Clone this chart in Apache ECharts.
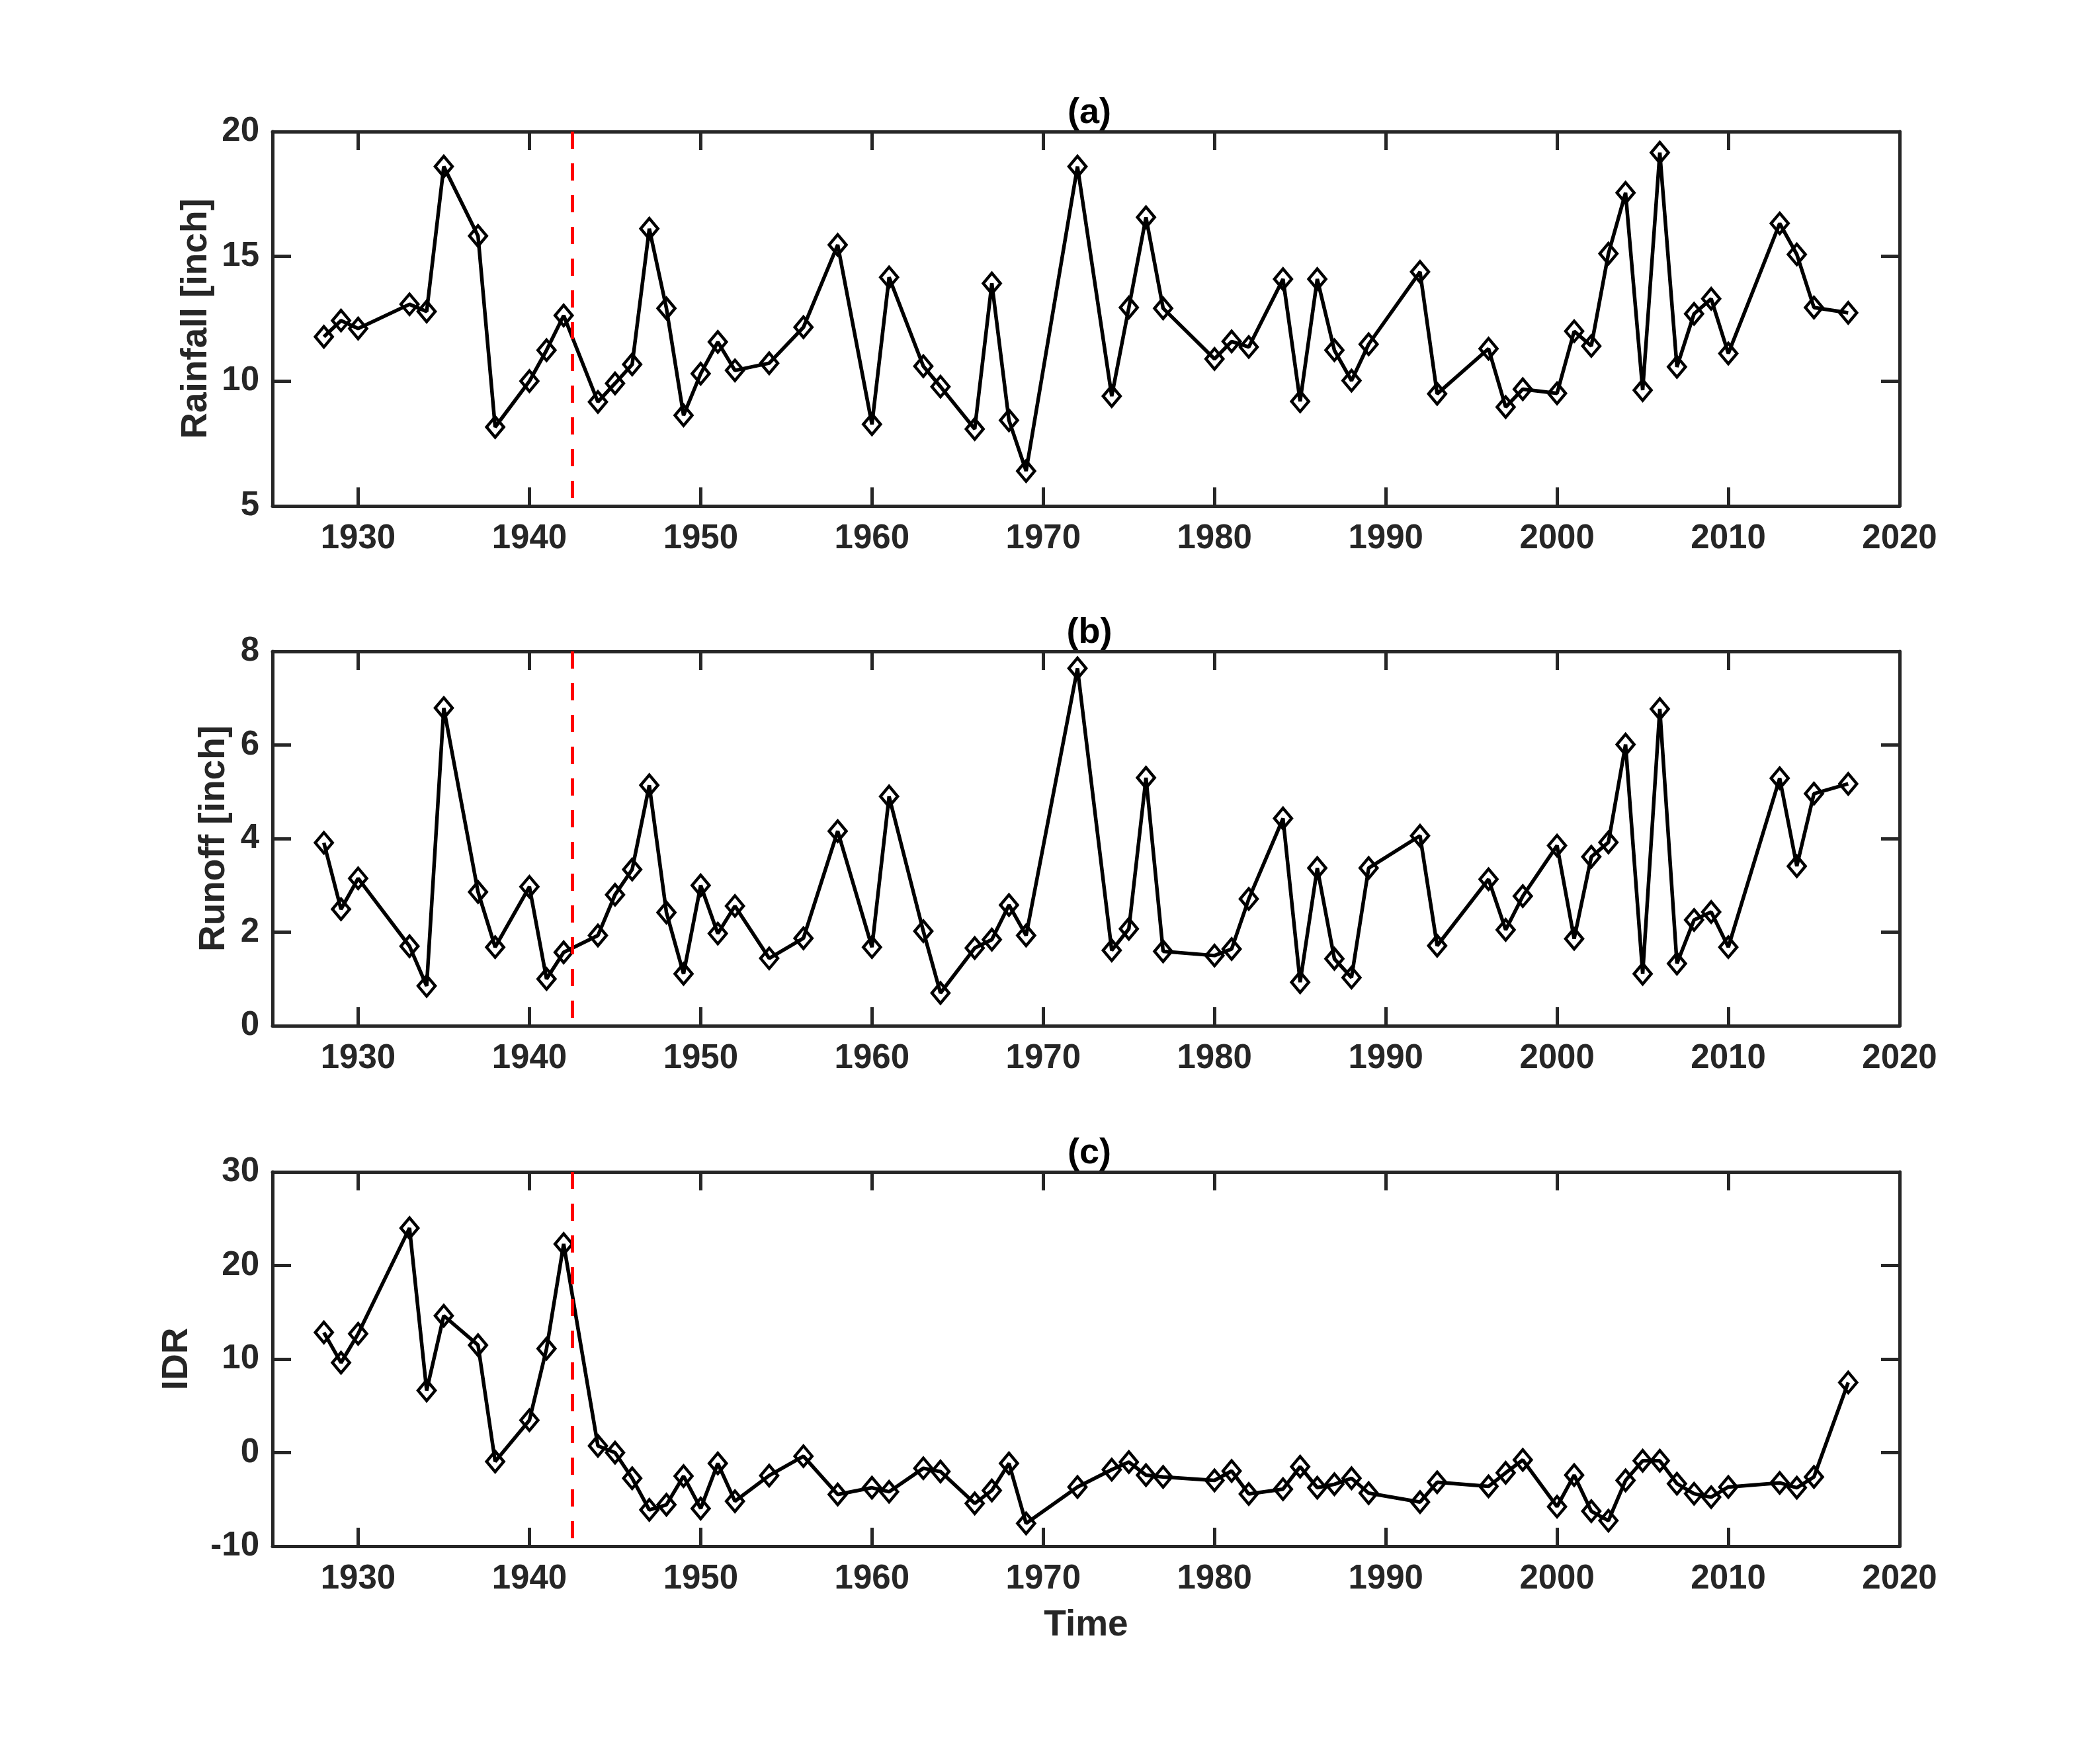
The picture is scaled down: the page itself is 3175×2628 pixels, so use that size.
<!DOCTYPE html>
<html>
<head>
<meta charset="utf-8">
<script src="https://cdn.jsdelivr.net/npm/echarts@6/dist/echarts.min.js"></script>
<style>
html,body{margin:0;padding:0;background:#fff;}
#chart{width:3175px;height:2628px;}
</style>
</head>
<body>
<div id="chart"></div>
<script>
var years = [1928,1929,1930,1933,1934,1935,1937,1938,1940,1941,1942,1944,1945,1946,1947,1948,1949,1950,1951,1952,1954,1956,1958,1960,1961,1963,1964,1966,1967,1968,1969,1972,1974,1975,1976,1977,1980,1981,1982,1984,1985,1986,1987,1988,1989,1992,1993,1996,1997,1998,2000,2001,2002,2003,2004,2005,2006,2007,2008,2009,2010,2013,2014,2015,2017];
var rainfall = [11.78,12.43,12.11,13.08,12.79,18.6,15.82,8.16,10.0,11.24,12.63,9.17,9.91,10.67,16.11,12.92,8.63,10.3,11.57,10.43,10.72,12.16,15.46,8.27,14.16,10.6,9.78,8.08,13.92,8.43,6.4,18.6,9.4,12.95,16.57,12.92,10.89,11.59,11.37,14.09,9.19,14.09,11.24,10.02,11.48,14.38,9.49,11.3,8.96,9.68,9.51,12.0,11.41,15.11,17.55,9.64,19.16,10.57,12.7,13.3,11.11,16.32,15.08,12.95,12.74];
var runoff = [3.91,2.49,3.15,1.70,0.85,6.79,2.86,1.68,2.97,1.0,1.57,1.93,2.8,3.34,5.14,2.42,1.11,3.0,1.97,2.56,1.44,1.87,4.16,1.68,4.9,2.02,0.7,1.66,1.84,2.58,1.93,7.64,1.61,2.07,5.3,1.59,1.5,1.64,2.71,4.43,0.93,3.37,1.43,1.03,3.37,4.06,1.71,3.13,2.05,2.77,3.85,1.86,3.61,3.92,6.01,1.11,6.77,1.33,2.26,2.43,1.68,5.29,3.41,4.96,5.17];
var idr = [12.84,9.61,12.7,24.0,6.64,14.63,11.49,-0.95,3.46,11.11,22.3,0.72,0.0,-2.74,-6.12,-5.57,-2.51,-5.97,-1.15,-5.19,-2.45,-0.38,-4.47,-3.75,-4.18,-1.67,-2.02,-5.43,-4.04,-1.15,-7.56,-3.67,-1.82,-1.01,-2.4,-2.6,-2.97,-1.96,-4.42,-3.9,-1.5,-3.75,-3.38,-2.74,-4.33,-5.28,-3.17,-3.61,-2.16,-0.78,-5.77,-2.4,-6.26,-7.27,-2.97,-0.87,-0.87,-3.32,-4.39,-4.76,-3.67,-3.23,-3.75,-2.6,7.5];
var xTicks = [1930,1940,1950,1960,1970,1980,1990,2000,2010,2020];
var breakYear = 1942.5;
var panelTitles = ['(a)','(b)','(c)'];
var yNames = ['Rainfall [inch]','Runoff [inch]','IDR'];
var yRanges = [[5,20,5],[0,8,2],[-10,30,10]];

var AX = '#262626';
var FONT = 'Liberation Sans';
var gridTops = [199, 985, 1772];
var nameGaps = [88, 61, 117];
var series = [rainfall, runoff, idr];

var grids = [], xAxes = [], yAxes = [], ser = [], titles = [];
for (var i = 0; i < 3; i++) {
  grids.push({left: 412, top: gridTops[i], width: 2460, height: 566, containLabel: false});
  titles.push({text: panelTitles[i], left: 1642, top: gridTops[i] - 60, textAlign: 'center',
    textStyle: {fontFamily: FONT, fontWeight: 'bold', fontSize: 54, color: '#000'}});
  var axLine = {show: true, onZero: false, lineStyle: {color: AX, width: 5}};
  var tick = {show: true, inside: true, length: 28, lineStyle: {color: AX, width: 5}, customValues: xTicks};
  xAxes.push({type: 'value', gridIndex: i, position: 'bottom', min: 1925, max: 2020,
    axisLine: axLine, splitLine: {show: false},
    axisTick: tick,
    axisLabel: {show: true, customValues: xTicks, margin: 24, fontFamily: FONT, fontWeight: 'bold', fontSize: 51, color: AX,
      formatter: function (v) { return String(v); }},
    name: i === 2 ? 'Time' : '', nameLocation: 'middle', nameGap: 92,
    nameTextStyle: {fontFamily: FONT, fontWeight: 'bold', fontSize: 55, color: AX}});
  xAxes.push({type: 'value', gridIndex: i, position: 'top', min: 1925, max: 2020,
    axisLine: axLine, splitLine: {show: false}, axisTick: tick, axisLabel: {show: false}});
  var r = yRanges[i];
  var ytick = {show: true, inside: true, length: 28, lineStyle: {color: AX, width: 5}};
  yAxes.push({type: 'value', gridIndex: i, position: 'left', min: r[0], max: r[1], interval: r[2],
    axisLine: axLine, splitLine: {show: false}, axisTick: ytick,
    axisLabel: {show: true, margin: 20, fontFamily: FONT, fontWeight: 'bold', fontSize: 51, color: AX},
    name: yNames[i], nameLocation: 'middle', nameGap: nameGaps[i], nameRotate: 90,
    nameTextStyle: {fontFamily: FONT, fontWeight: 'bold', fontSize: 55, color: AX}});
  yAxes.push({type: 'value', gridIndex: i, position: 'right', min: r[0], max: r[1], interval: r[2],
    axisLine: axLine, splitLine: {show: false}, axisTick: ytick, axisLabel: {show: false}});
  var d = years.map(function (y, k) { return [y, series[i][k]]; });
  ser.push({type: 'line', xAxisIndex: 2 * i, yAxisIndex: 2 * i, data: d,
    symbol: 'diamond', symbolSize: [26, 31], showAllSymbol: true,
    lineStyle: {color: '#000', width: 5.5},
    itemStyle: {color: 'rgba(255,255,255,0)', borderColor: '#000', borderWidth: 4.5},
    emphasis: {disabled: true}, animation: false,
    markLine: {silent: true, symbol: ['none', 'none'], label: {show: false},
      lineStyle: {color: '#ff0000', width: 5, type: [26, 22]},
      data: [[{coord: [breakYear, r[1]]}, {coord: [breakYear, r[0]]}]]}});
}

var chart = echarts.init(document.getElementById('chart'), null, {renderer: 'canvas'});
chart.setOption({
  backgroundColor: '#fff',
  animation: false,
  title: titles,
  grid: grids,
  xAxis: xAxes,
  yAxis: yAxes,
  series: ser
});
</script>
</body>
</html>
